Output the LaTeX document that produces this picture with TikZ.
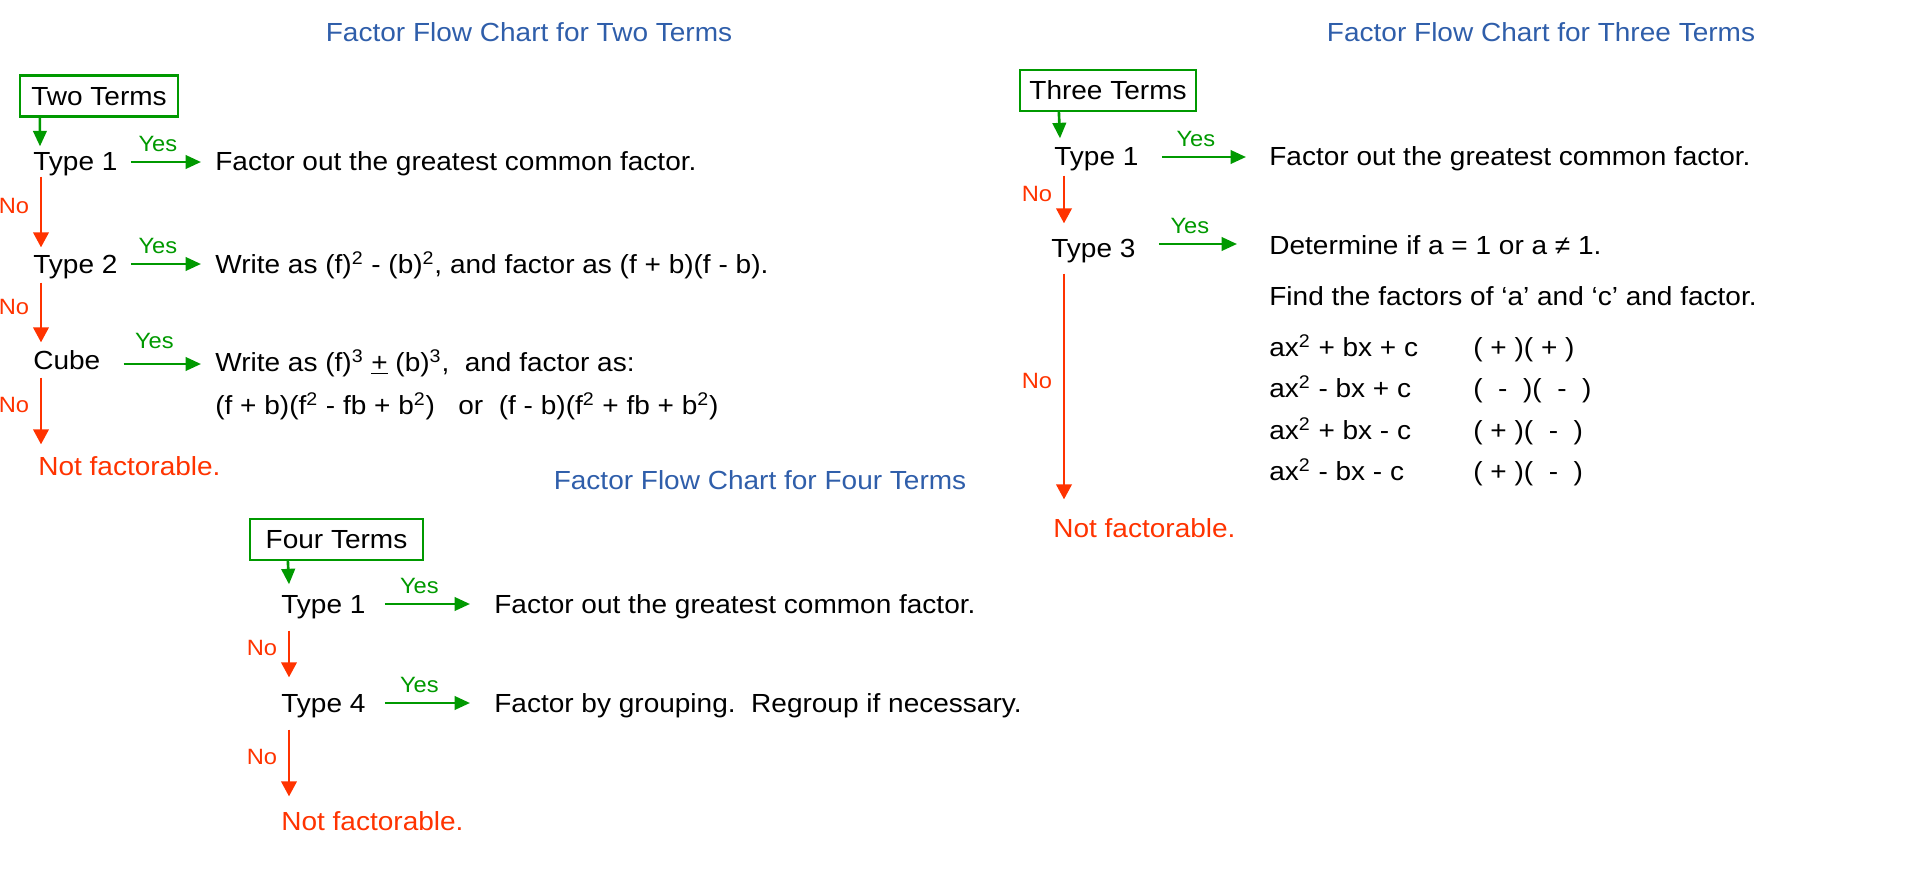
\documentclass[tikz,border=0pt]{standalone}
\usepackage{fontspec}
\setmainfont{Liberation Sans}[FakeStretch=1.07]
\usetikzlibrary{arrows.meta,calc}
\definecolor{ttlblue}{RGB}{47,94,170}
\definecolor{yesgreen}{RGB}{0,153,0}
\definecolor{nored}{RGB}{255,51,0}
\newcommand{\sq}{\textsuperscript{2}}
\newcommand{\cu}{\textsuperscript{3}}

\begin{document}
\begin{tikzpicture}[
  x=0.02cm, y=-0.02cm,
  txt/.style={anchor=west,inner sep=0pt,text height=10.6pt,text depth=0pt,font=\fontsize{14.9}{17}\selectfont},
  ttl/.style={txt,anchor=center,text=ttlblue},
  term/.style={draw=yesgreen,line width=1.3pt,inner sep=0pt,minimum height=0.82cm,text height=10.6pt,text depth=0pt,font=\fontsize{14.9}{17}\selectfont},
  nf/.style={txt,text=nored},
  yesarr/.style={-{Triangle[length=0.31cm,width=0.27cm]},draw=yesgreen,line width=1.5pt},
  noarr/.style={-{Triangle[length=0.3cm,width=0.31cm]},draw=nored,line width=1.35pt},
  yeslbl/.style={midway,xshift=-0.16cm,yshift=0.36cm,text=yesgreen,inner sep=0pt,text height=9pt,text depth=0pt,font=\fontsize{12.6}{14}\selectfont},
  nolbl/.style={midway,xshift=-0.54cm,yshift=0.12cm,text=nored,inner sep=0pt,text height=9pt,text depth=0pt,font=\fontsize{12.6}{14}\selectfont}
]
\useasboundingbox (0,0) rectangle (1914,872);

% two terms
\node[ttl] (ttl2) at (529,32) {Factor Flow Chart for Two Terms};
\node[term,minimum width=3.16cm] (two) at (99,96) {Two Terms};
\node[txt] (two1) at (33,161) {Type 1};
\node[txt] (twof1) at (215,161) {Factor out the greatest common factor.};
\node[txt] (two2) at (33,264) {Type 2};
\node[txt] (twof2) at (215,264) {Write as (f)\sq{} - (b)\sq, and factor as (f + b)(f - b).};
\node[txt] (cube) at (33,360) {Cube};
\node[txt] (cubef) at (215,362) {Write as (f)\cu{} \underline{+} (b)\cu,~~and factor as:};
\node[txt] (cubeg) at (215,405) {(f + b)(f\sq{} - fb + b\sq)~~~or~~(f - b)(f\sq{} + fb + b\sq)};
\node[nf] (two0) at (38,466) {Not factorable.};
\draw[yesarr] ($(two.south west)+(21,0)$) -- ($(two1.north west)+(7,-5)$);
\draw[yesarr] ($(two1.east)+(13,1)$) -- ($(twof1.west)+(-14,1)$) node[yeslbl] {Yes};
\draw[noarr] ($(two1.south west)+(8,6)$) -- ($(two2.north west)+(8,-7)$) node[nolbl] {No};
\draw[yesarr] ($(two2.east)+(13,0)$) -- ($(twof2.west)+(-14,0)$) node[yeslbl] {Yes};
\draw[noarr] ($(two2.south west)+(8,9)$) -- ($(cube.north west)+(8,-8)$) node[nolbl] {No};
\draw[yesarr] ($(cube.east)+(23,4)$) -- ($(cubef.west)+(-14,2)$) node[yeslbl,yshift=0.1cm] {Yes};
\draw[noarr] ($(cube.south west)+(8,8)$) -- ($(two0.north west)+(3,-12)$) node[nolbl] {No};

% three terms
\node[ttl] (ttl3) at (1541,32) {Factor Flow Chart for Three Terms};
\node[term,minimum width=3.52cm] (three) at (1108,90.5) {Three Terms};
\node[txt] (thr1) at (1054,156) {Type 1};
\node[txt] (thrf1) at (1269,156) {Factor out the greatest common factor.};
\node[txt] (thr3) at (1051,248) {Type 3};
\node[txt] (thrf3) at (1269,245) {Determine if a = 1 or a ≠ 1.};
\node[txt] (thrf4) at (1269,296) {Find the factors of `a' and `c' and factor.};
\node[txt] (ra) at (1269,347) {ax\sq{} + bx + c};
\node[txt] (sa) at (1473,347) {( + )( + )};
\node[txt] (rb) at (1269,388.5) {ax\sq{} - bx + c};
\node[txt] (sb) at (1473,388.5) {(~~-~~)(~~-~~)};
\node[txt] (rc) at (1269,430) {ax\sq{} + bx - c};
\node[txt] (sc) at (1473,430) {( + )(~~-~~)};
\node[txt] (rd) at (1269,471.5) {ax\sq{} - bx - c};
\node[txt] (sd) at (1473,471.5) {( + )(~~-~~)};
\node[nf] (thr0) at (1053,528) {Not factorable.};
\draw[yesarr] ($(three.south west)+(40,0)$) -- ($(thr1.north west)+(6,-8)$);
\draw[yesarr] ($(thr1.east)+(23,1)$) -- ($(thrf1.west)+(-23,1)$) node[yeslbl] {Yes};
\draw[noarr] ($(thr1.south west)+(10,10)$) -- ($(thr3.north west)+(13,-15)$) node[nolbl] {No};
\draw[yesarr] ($(thr3.east)+(23,-4)$) -- ($(thrf3.west)+(-32,-1)$) node[yeslbl] {Yes};
\draw[noarr] ($(thr3.south west)+(13,16)$) -- ($(thr0.north west)+(11,-19)$) node[nolbl] {No};

% four terms
\node[ttl] (ttl4) at (760,480) {Factor Flow Chart for Four Terms};
\node[term,minimum width=3.46cm] (four) at (336.5,539.5) {Four Terms};
\node[txt] (fou1) at (281,604) {Type 1};
\node[txt] (fouf1) at (494,604) {Factor out the greatest common factor.};
\node[txt] (fou4) at (281,703) {Type 4};
\node[txt] (fouf4) at (494,703) {Factor by grouping.~~Regroup if necessary.};
\node[nf] (fou0) at (281,821) {Not factorable.};
\draw[yesarr] ($(four.south west)+(39,0)$) -- ($(fou1.north west)+(8,-10)$);
\draw[yesarr] ($(fou1.east)+(19,0)$) -- ($(fouf1.west)+(-24,0)$) node[yeslbl] {Yes};
\draw[noarr] ($(fou1.south west)+(8,17)$) -- ($(fou4.north west)+(8,-16)$) node[nolbl] {No};
\draw[yesarr] ($(fou4.east)+(19,0)$) -- ($(fouf4.west)+(-24,0)$) node[yeslbl] {Yes};
\draw[noarr] ($(fou4.south west)+(8,17)$) -- ($(fou0.north west)+(8,-15)$) node[nolbl] {No};
\end{tikzpicture}
\end{document}
